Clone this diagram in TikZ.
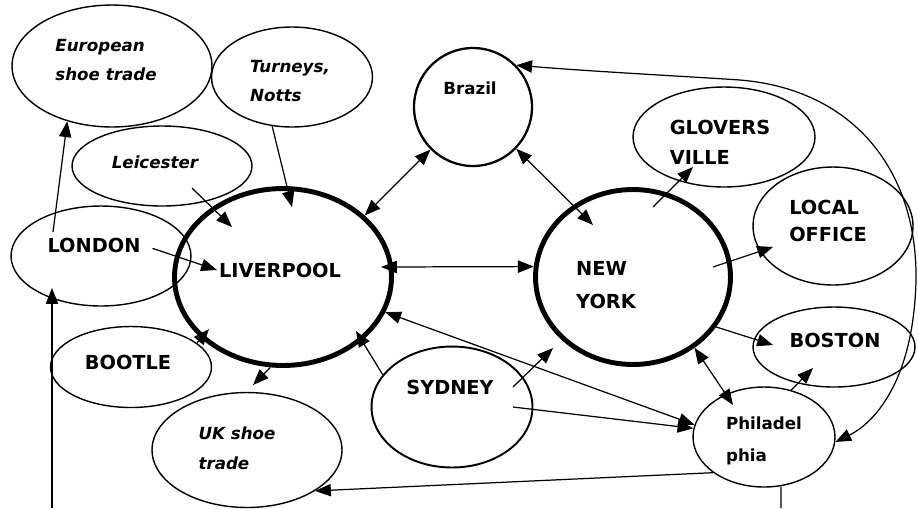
\documentclass[tikz,border=0pt]{standalone}
\usepackage{fontspec}
\setmainfont{DejaVu Sans}
\usetikzlibrary{shapes.geometric,arrows.meta}

\begin{document}
\begin{tikzpicture}[x=0.02cm,y=-0.02cm,
  >={Triangle[length=9pt,width=7pt]},
  place/.style={draw,ellipse,line width=0.8pt,inner sep=0pt},
  hub/.style={draw,ellipse,line width=2.8pt,inner sep=0pt},
  caps/.style={font=\fontsize{11}{#1}\selectfont\bfseries,align=left,inner sep=1pt},
  caps/.default=17,
  lower/.style={font=\fontsize{9.5}{18.5}\selectfont\bfseries,align=left,inner sep=1pt},
  itl/.style={font=\fontsize{9.5}{17}\selectfont\bfseries\itshape,align=left,inner sep=1pt},
  link/.style={line width=0.7pt}]
  \useasboundingbox (0,0) rectangle (918,508);
  \node[place,minimum width=4cm,minimum height=2.44cm] (euro) at (112,66) {};
  \node[place,minimum width=3.22cm,minimum height=2cm] (turn) at (292,77) {};
  \node[place,minimum width=3.6cm,minimum height=1.6cm] (leic) at (162,166) {};
  \node[place,minimum width=3.6cm,minimum height=2cm] (lond) at (101,256) {};
  \node[hub,minimum width=4.34cm,minimum height=3.54cm] (liv) at (283,277) {};
  \node[place,line width=1.3pt,minimum width=2.36cm,minimum height=2.36cm] (braz) at (473,107) {};
  \node[hub,minimum width=3.9cm,minimum height=3.5cm] (ny) at (633,277) {};
  \node[place,minimum width=3.64cm,minimum height=2cm] (glov) at (724,137) {};
  \node[place,minimum width=3.2cm,minimum height=2.36cm] (loc) at (833,226) {};
  \node[place,minimum width=3.24cm,minimum height=1.6cm] (bost) at (834,347) {};
  \node[place,minimum width=2.84cm,minimum height=2cm] (phil) at (764,437) {};
  \node[place,line width=1.1pt,minimum width=3.22cm,minimum height=2.42cm] (syd) at (452,407) {};
  \node[place,minimum width=3.22cm,minimum height=1.62cm] (boot) at (131,367) {};
  \node[place,minimum width=3.8cm,minimum height=2.3cm] (uk) at (247,450) {};

  \node[itl] (eurotxt) at (106,60) {European\\shoe trade};
  \node[itl,font=\fontsize{9.5}{16}\selectfont\bfseries\itshape] (turntxt) at (290,81) {Turneys,\\Notts};
  \node[itl] (leictxt) at (155,162) {Leicester};
  \node[caps] (lontxt) at (94,245) {LONDON};
  \node[caps] (livtxt) at (280,270) {LIVERPOOL};
  \node[lower] (braztxt) at (470,88) {Brazil};
  \node[caps=18.5] (nytxt) at (606,285) {NEW\\YORK};
  \node[caps] (glovtxt) at (720,142) {GLOVERS\\VILLE};
  \node[caps=15.5] (loctxt) at (828,221) {LOCAL\\OFFICE};
  \node[caps] (bosttxt) at (835,340) {BOSTON};
  \node[lower] (philtxt) at (764,441) {Philadel\\phia};
  \node[caps] (sydtxt) at (450,387) {SYDNEY};
  \node[caps] (boottxt) at (128,362) {BOOTLE};
  \node[itl] (uktxt) at (237,448) {UK shoe\\trade};

  \coordinate (lonA) at (53,232);
  \coordinate (lonB) at (52,288);
  \coordinate (lonBot) at (52,508);
  \coordinate (leiA) at (192,188);
  \coordinate (livA) at (232,227);
  \coordinate (livB) at (292,207);
  \coordinate (livC) at (381,267);
  \coordinate (livD) at (356,331);
  \coordinate (livE) at (209,329);
  \coordinate (nyA) at (593,225);
  \coordinate (nyB) at (653,207);
  \coordinate (nyC) at (713,267);
  \coordinate (nyD) at (553,348);
  \coordinate (glovA) at (693,167);
  \coordinate (locA) at (773,247);
  \coordinate (bostA) at (773,345);
  \coordinate (bostB) at (813,368);
  \coordinate (philA) at (733,405);
  \coordinate (philBot) at (781,508);
  \coordinate (sydA) at (513,387);
  \coordinate (sydB) at (513,407);
  \coordinate (ukA) at (253,385);

  \draw[link,->] (lonA) -- (euro.-129);
  \draw[link,->] (lonBot) -- (lonB);
  \draw[link,->,shorten <=6pt] (lontxt.east) -- (livtxt.west);
  \draw[link,->] (leiA) -- (livA);
  \draw[link,->] (turn.-112) -- (livB);
  \draw[link,<->] (liv.37) -- (braz.225);
  \draw[link,<->] (braz.-44) -- (nyA);
  \draw[link,<->] (livC) -- (ny.174);
  \draw[link,->] (nyB) -- (glovA);
  \draw[link,->] (nyC) -- (locA);
  \draw[link,->] (ny.-31) -- (bostA);
  \draw[link,<->] (ny.-49) -- (philA);
  \draw[link,->] (phil.60) -- (bostB);
  \draw[link,->] (sydA) -- (nyD);
  \draw[link,->] (sydB) -- (phil.173);
  \draw[link,<->] (liv.-19) -- (phil.170);
  \draw[link,->] (syd.155) -- (livD);
  \draw[link,->] (boot.20) -- (livE);
  \draw[link,->] (liv.-98) -- (ukA);
  \draw[link,->] (phil.-145) -- (uk.-31);
  \draw[link] (phil.-71) -- (philBot);
  \draw[link,<->] (braz.44) .. controls (600,72) and (680,76) .. (740,80)
    .. controls (860,90) and (925,180) .. (915,300)
    .. controls (908,390) and (870,425) .. (phil.-4);
\end{tikzpicture}
\end{document}
